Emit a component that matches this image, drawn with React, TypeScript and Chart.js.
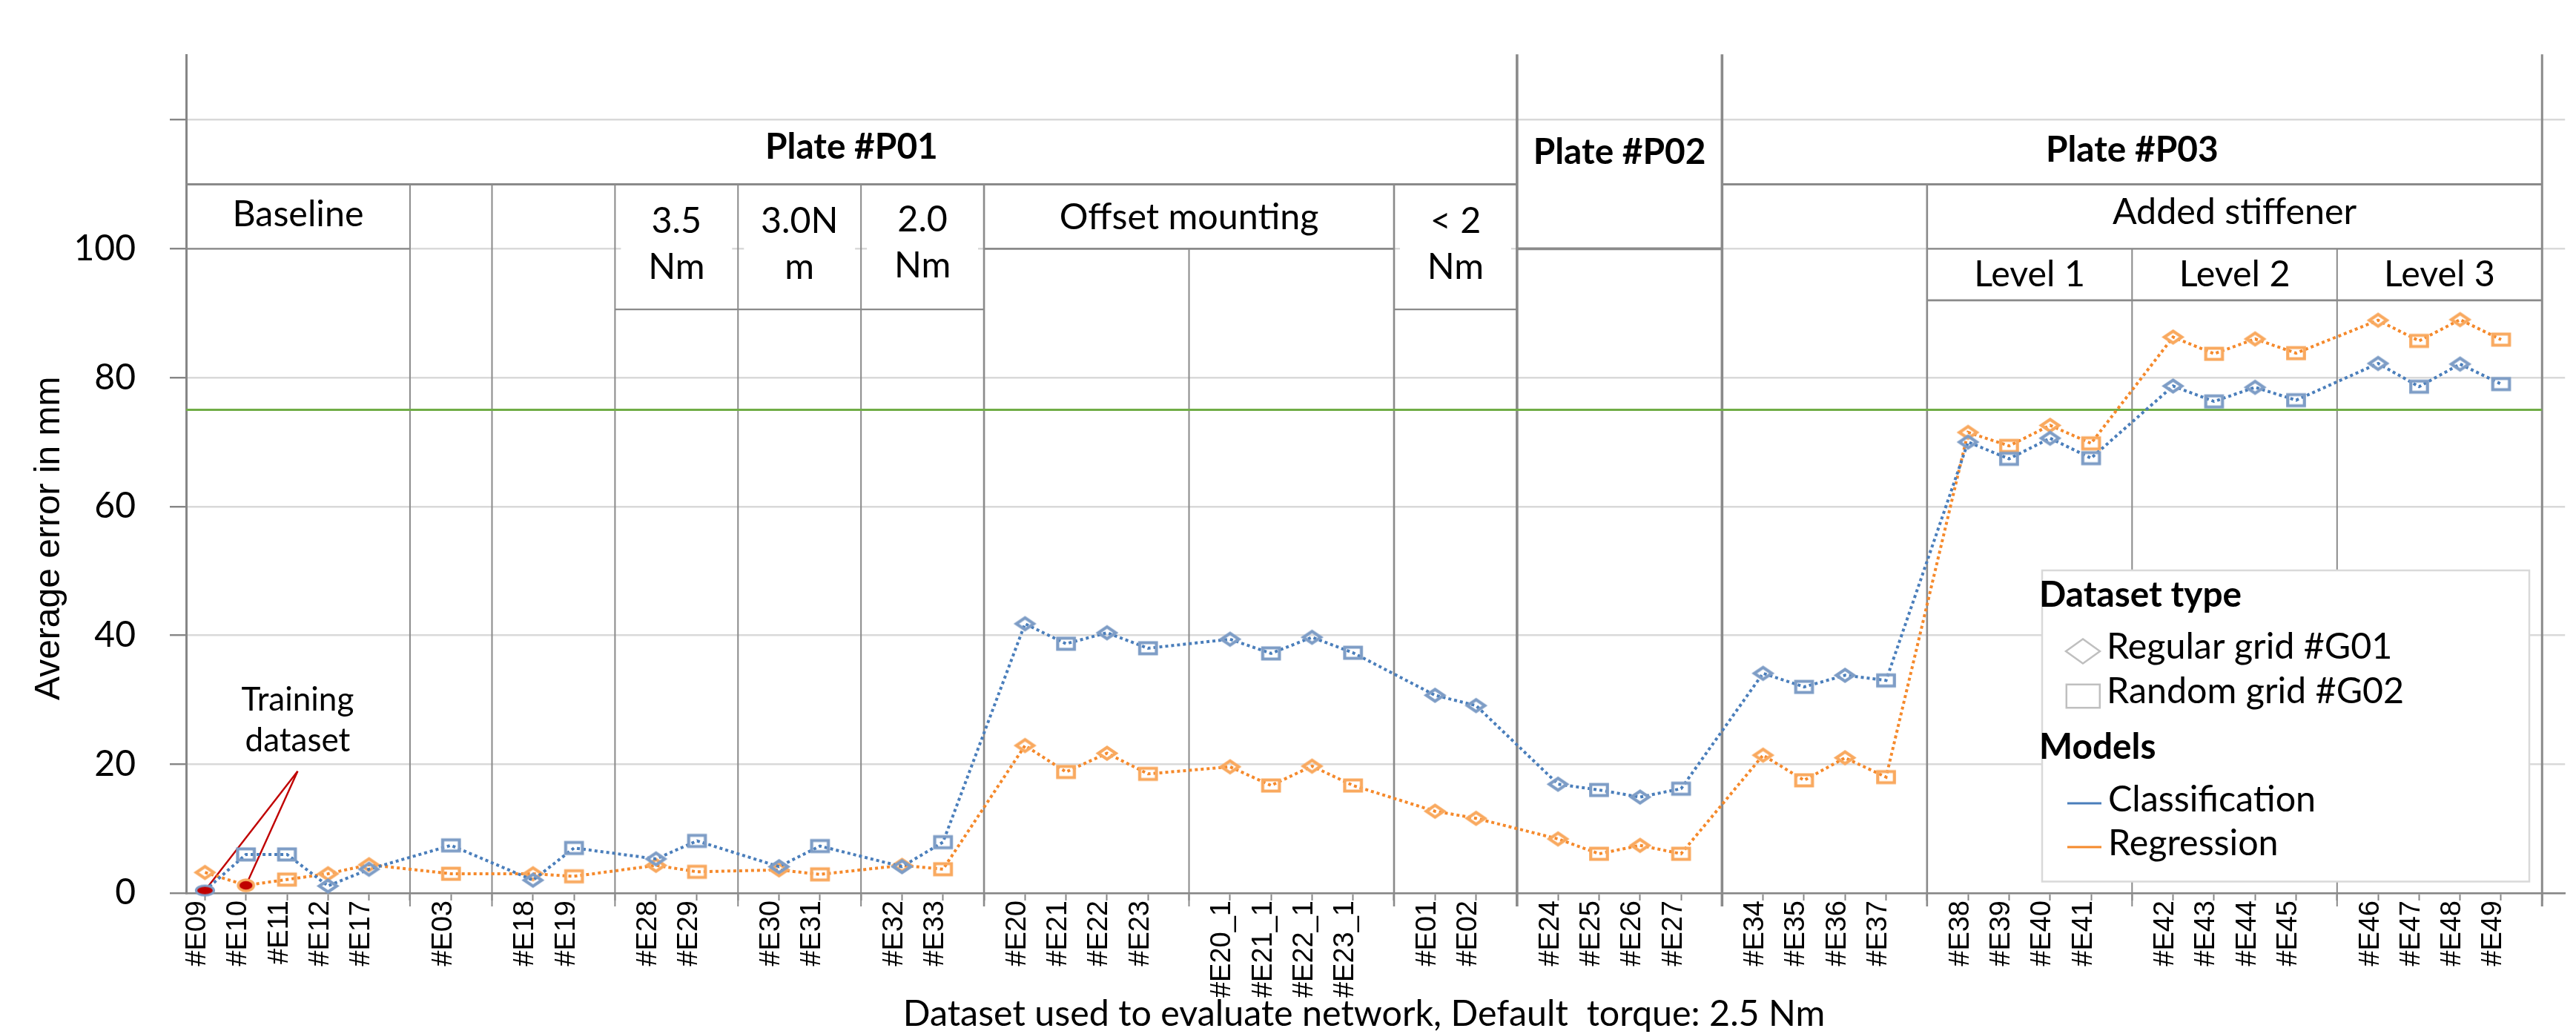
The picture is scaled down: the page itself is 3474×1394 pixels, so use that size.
import React, { useEffect, useRef } from 'react';
import { Chart, registerables } from 'chart.js';

Chart.register(...registerables);

// ---------------- data ----------------
const categories = [
  '#E09', '#E10', '#E11', '#E12', '#E17', '',
  '#E03', '',
  '#E18', '#E19', '',
  '#E28', '#E29', '',
  '#E30', '#E31', '',
  '#E32', '#E33', '',
  '#E20', '#E21', '#E22', '#E23', '',
  '#E20_1', '#E21_1', '#E22_1', '#E23_1', '',
  '#E01', '#E02', '',
  '#E24', '#E25', '#E26', '#E27', '',
  '#E34', '#E35', '#E36', '#E37', '',
  '#E38', '#E39', '#E40', '#E41', '',
  '#E42', '#E43', '#E44', '#E45', '',
  '#E46', '#E47', '#E48', '#E49', '',
];

const classification = [
  0.4, 6.0, 6.0, 1.1, 3.7, null,
  7.4, null,
  2.0, 7.0, null,
  5.3, 8.1, null,
  4.1, 7.3, null,
  4.1, 7.9, null,
  41.8, 38.7, 40.4, 38.0, null,
  39.4, 37.2, 39.7, 37.3, null,
  30.7, 29.1, null,
  16.9, 16.0, 14.9, 16.2, null,
  34.1, 32.0, 33.8, 33.0, null,
  70.0, 67.4, 70.6, 67.5, null,
  78.7, 76.3, 78.5, 76.5, null,
  82.2, 78.6, 82.1, 79.0, null,
];

const regression = [
  3.2, 1.2, 2.1, 3.0, 4.4, null,
  3.0, null,
  3.0, 2.6, null,
  4.3, 3.3, null,
  3.6, 2.9, null,
  4.3, 3.7, null,
  22.9, 18.8, 21.7, 18.5, null,
  19.6, 16.7, 19.7, 16.7, null,
  12.7, 11.6, null,
  8.4, 6.1, 7.4, 6.1, null,
  21.4, 17.5, 21.0, 18.0, null,
  71.5, 69.4, 72.6, 69.8, null,
  86.3, 83.7, 86.0, 83.8, null,
  88.9, 85.7, 89.0, 85.9, null,
];

// dataset type of each evaluation set: G01 = regular grid, G02 = random grid
const gridType = [
  'G01', 'G02', 'G02', 'G01', 'G01', '',
  'G02', '',
  'G01', 'G02', '',
  'G01', 'G02', '',
  'G01', 'G02', '',
  'G01', 'G02', '',
  'G01', 'G02', 'G01', 'G02', '',
  'G01', 'G02', 'G01', 'G02', '',
  'G01', 'G01', '',
  'G01', 'G02', 'G01', 'G02', '',
  'G01', 'G02', 'G01', 'G02', '',
  'G01', 'G02', 'G01', 'G02', '',
  'G01', 'G02', 'G01', 'G02', '',
  'G01', 'G02', 'G01', 'G02', '',
];

const trainingClassification = '#E09';
const trainingRegression = '#E10';
const thresholdValue = 75;

const yTickValues = [0, 20, 40, 60, 80, 100, 120];
const yTickLabels = ['0', '20', '40', '60', '80', '100', ''];

const seriesNames = ['Classification', 'Regression'];
const datasetTypeNames = ['Regular grid #G01', 'Random grid #G02'];
const legendHeadings = ['Dataset type', 'Models'];

const xTitle = 'Dataset used to evaluate network, Default  torque: 2.5 Nm';
const yTitle = 'Average error in mm';
const noteLines = ['Training', 'dataset'];

// header table drawn over the plot (category boundaries / value levels)
const X_MIN = 0.54;
const X_MAX = 58.56;
const Y_MAX = 130;

const plateCells = [
  { text: 'Plate #P01', from: X_MIN, to: 33, base: 113.95 },
  { text: 'Plate #P02', from: 33, to: 38, base: 113.2 },
  { text: 'Plate #P03', from: 38, to: 58, base: 113.5 },
];

const conditionCells = [
  { lines: ['Baseline'], from: X_MIN, to: 6, bases: [103.5], blank: false },
  { lines: ['3.5', 'Nm'], from: 11, to: 14, bases: [102.5, 95.3], blank: true },
  { lines: ['3.0N', 'm'], from: 14, to: 17, bases: [102.5, 95.3], blank: true },
  { lines: ['2.0', 'Nm'], from: 17, to: 20, bases: [102.7, 95.5], blank: true },
  { lines: ['Offset mounting'], from: 20, to: 30, bases: [103.0], blank: false },
  { lines: ['< 2', 'Nm'], from: 30, to: 33, bases: [102.5, 95.3], blank: true },
  { lines: ['Added stiffener'], from: 43, to: 58, bases: [103.9], blank: false },
  { lines: ['Level 1'], from: 43, to: 48, bases: [94.2], blank: false },
  { lines: ['Level 2'], from: 48, to: 53, bases: [94.2], blank: false },
  { lines: ['Level 3'], from: 53, to: 58, bases: [94.2], blank: false },
];

const vLines = [
  { at: 6, top: 110, w: 2 },
  { at: 8, top: 110, w: 2 },
  { at: 11, top: 110, w: 2 },
  { at: 14, top: 110, w: 2 },
  { at: 17, top: 110, w: 2 },
  { at: 20, top: 110, w: 2.6 },
  { at: 25, top: 100, w: 2 },
  { at: 30, top: 110, w: 2.6 },
  { at: 33, top: 130, w: 3.6 },
  { at: 38, top: 130, w: 3.6 },
  { at: 43, top: 110, w: 2.6 },
  { at: 48, top: 100, w: 2 },
  { at: 53, top: 100, w: 2 },
  { at: 58, top: 130, w: 3 },
];

const hLines = [
  { v: 110, from: X_MIN, to: 33, w: 3 },
  { v: 110, from: 38, to: 58, w: 3 },
  { v: 100, from: X_MIN, to: 6, w: 2.2 },
  { v: 100, from: 20, to: 30, w: 2.6 },
  { v: 100, from: 33, to: 38, w: 3.6 },
  { v: 100, from: 43, to: 58, w: 2.2 },
  { v: 90.6, from: 11, to: 20, w: 2.2 },
  { v: 90.6, from: 30, to: 33, w: 2.2 },
  { v: 92, from: 43, to: 58, w: 2.6 },
];

// annotation anchor (category position, value)
const noteAnchor = { x: 3.26, y: 18.9 };
const noteBases = [28.3, 22.0];

// ---------------- styles ----------------
const C = {
  blueLine: '#4A7EBB',
  blueMark: '#7E9DC6',
  orangeLine: '#F5892B',
  orangeMark: '#F9A95F',
  red: '#C00000',
  green: '#70AD47',
  table: '#8A8A8A',
  grid: '#D9D9D9',
  axis: '#868686',
  legendBorder: '#D9D9D9',
  legendMark: '#BFBFBF',
};

function makeMarker(shape: string, stroke: string, fill: string | null, w: number, h: number, lw: number) {
  const c = document.createElement('canvas');
  c.width = Math.ceil(w + lw * 2 + 4);
  c.height = Math.ceil(h + lw * 2 + 4);
  const g = c.getContext('2d')!;
  const cx = c.width / 2;
  const cy = c.height / 2;
  g.lineWidth = lw;
  g.strokeStyle = stroke;
  g.lineJoin = 'miter';
  g.beginPath();
  if (shape === 'diamond') {
    g.moveTo(cx, cy - h / 2);
    g.lineTo(cx + w / 2, cy);
    g.lineTo(cx, cy + h / 2);
    g.lineTo(cx - w / 2, cy);
    g.closePath();
  } else if (shape === 'square') {
    g.rect(cx - w / 2, cy - h / 2, w, h);
  } else {
    g.ellipse(cx, cy, w / 2, h / 2, 0, 0, Math.PI * 2);
  }
  if (fill) {
    g.fillStyle = fill;
    g.fill();
  }
  g.stroke();
  return c;
}

export default function App() {
  const canvasRef = useRef<HTMLCanvasElement | null>(null);

  useEffect(() => {
    const canvas = canvasRef.current;
    if (!canvas) return;

    // size the Calibri-like (Lato) texts so their widths match the reference
    const m = document.createElement('canvas').getContext('2d')!;
    const fit = (text: string, target: number, weight: string, fallback: number) => {
      m.font = `${weight} 100px Lato`;
      const w = m.measureText(text).width;
      return w > 0 ? (100 * target) / w : fallback;
    };
    const calReg = (fit(xTitle, 1261, 'normal', 52) + fit('Classification', 277.5, 'normal', 52) + fit('Baseline', 176, 'normal', 52)) / 3;
    const calBold = (fit('Dataset type', 277, 'bold', 52) + fit('Plate #P03', 229.5, 'bold', 52)) / 2;
    const calNote = fit('Training', 151.7, 'normal', 46);
    const REG = `${calReg.toFixed(1)}px Lato`;
    const BOLD = `bold ${calBold.toFixed(1)}px Lato`;
    const NOTE = `${calNote.toFixed(1)}px Lato`;

    const mk = {
      blueDiamond: makeMarker('diamond', C.blueMark, null, 23.5, 16, 4.2),
      blueSquare: makeMarker('square', C.blueMark, null, 22.5, 15, 4.2),
      orangeDiamond: makeMarker('diamond', C.orangeMark, null, 23.5, 16, 4.2),
      orangeSquare: makeMarker('square', C.orangeMark, null, 22.5, 15, 4.2),
      blueTrain: makeMarker('ellipse', C.blueMark, C.red, 24, 13, 3.2),
      orangeTrain: makeMarker('ellipse', C.orangeMark, C.red, 21, 15, 3.6),
    };

    const clsStyles = categories.map((c, i) =>
      c === trainingClassification ? mk.blueTrain : gridType[i] === 'G01' ? mk.blueDiamond : mk.blueSquare);
    const regStyles = categories.map((c, i) =>
      c === trainingRegression ? mk.orangeTrain : gridType[i] === 'G01' ? mk.orangeDiamond : mk.orangeSquare);

    const drawText = (ctx: CanvasRenderingContext2D, s: string, x: number, y: number, font: string, align: CanvasTextAlign = 'center') => {
      ctx.font = font;
      ctx.textAlign = align;
      ctx.textBaseline = 'alphabetic';
      ctx.fillStyle = '#000';
      ctx.fillText(s, x, y);
    };

    const overlay = {
      id: 'overlay',
      beforeDatasetsDraw(chart: any) {
        const { ctx } = chart;
        const xs = chart.scales.x;
        const ys = chart.scales.y;
        const px = (c: number) => xs.getPixelForValue(c);
        const py = (v: number) => ys.getPixelForValue(v);
        const bottom = py(0);
        ctx.save();
        // white cells hiding gridlines
        ctx.fillStyle = '#fff';
        conditionCells.forEach((cell) => {
          if (!cell.blank) return;
          const x0 = px(cell.from) + 8;
          const x1 = px(cell.to) - 8;
          ctx.fillRect(x0, py(110) + 4, x1 - x0, py(90.6) - py(110) - 8);
        });
        // table lines
        ctx.strokeStyle = C.table;
        ctx.lineCap = 'butt';
        vLines.forEach((l) => {
          ctx.beginPath();
          ctx.lineWidth = l.w;
          ctx.moveTo(px(l.at), py(l.top) - (l.top >= Y_MAX ? 1.5 : 0));
          ctx.lineTo(px(l.at), bottom + 18);
          ctx.stroke();
        });
        hLines.forEach((l) => {
          ctx.beginPath();
          ctx.lineWidth = l.w;
          ctx.moveTo(px(l.from), py(l.v));
          ctx.lineTo(px(l.to), py(l.v));
          ctx.stroke();
        });
        // table texts
        plateCells.forEach((c) => drawText(ctx, c.text, (px(c.from) + px(c.to)) / 2, py(c.base), BOLD));
        conditionCells.forEach((c) => {
          c.lines.forEach((s, i) => drawText(ctx, s, (px(c.from) + px(c.to)) / 2, py(c.bases[i]), REG));
        });
        // threshold line
        ctx.beginPath();
        ctx.strokeStyle = C.green;
        ctx.lineWidth = 3;
        ctx.moveTo(px(X_MIN), py(thresholdValue));
        ctx.lineTo(px(58), py(thresholdValue));
        ctx.stroke();
        // training annotation
        const ax = px(noteAnchor.x);
        const ay = py(noteAnchor.y);
        noteLines.forEach((s, i) => drawText(ctx, s, ax, py(noteBases[i]), NOTE));
        ctx.strokeStyle = C.red;
        ctx.lineWidth = 2.4;
        const ic = categories.indexOf(trainingClassification);
        const ir = categories.indexOf(trainingRegression);
        [[ic + 1, classification[ic]], [ir + 1, regression[ir]]].forEach(([cx, cy]) => {
          ctx.beginPath();
          ctx.moveTo(ax, ay);
          ctx.lineTo(px(cx as number), py(cy as number));
          ctx.stroke();
        });
        ctx.restore();
      },
      afterDraw(chart: any) {
        const { ctx } = chart;
        const xs = chart.scales.x;
        ctx.save();
        // axis titles
        drawText(ctx, xTitle, (xs.getPixelForValue(X_MIN) + xs.getPixelForValue(58)) / 2, 1383, REG);
        ctx.save();
        ctx.translate(80, 944);
        ctx.rotate(-Math.PI / 2);
        drawText(ctx, yTitle, 0, 0, '48px "Liberation Sans"', 'left');
        ctx.restore();
        // legend
        ctx.fillStyle = '#fff';
        ctx.fillRect(2754, 769, 657, 419.5);
        ctx.strokeStyle = C.legendBorder;
        ctx.lineWidth = 2.5;
        ctx.strokeRect(2754, 769, 657, 419.5);
        drawText(ctx, legendHeadings[0], 2750, 818, BOLD, 'left');
        ctx.strokeStyle = C.legendMark;
        ctx.lineWidth = 2.5;
        ctx.beginPath();
        ctx.moveTo(2809, 878 - 16.5);
        ctx.lineTo(2809 + 23, 878);
        ctx.lineTo(2809, 878 + 16.5);
        ctx.lineTo(2809 - 23, 878);
        ctx.closePath();
        ctx.stroke();
        drawText(ctx, datasetTypeNames[0], 2841, 888, REG, 'left');
        ctx.strokeRect(2786.8, 922.8, 45, 31.4);
        drawText(ctx, datasetTypeNames[1], 2841, 948, REG, 'left');
        drawText(ctx, legendHeadings[1], 2750, 1023, BOLD, 'left');
        ctx.lineWidth = 3;
        ctx.strokeStyle = C.blueLine;
        ctx.beginPath();
        ctx.moveTo(2788, 1083);
        ctx.lineTo(2834, 1083);
        ctx.stroke();
        drawText(ctx, seriesNames[0], 2843, 1094, REG, 'left');
        ctx.strokeStyle = C.orangeLine;
        ctx.beginPath();
        ctx.moveTo(2788, 1142);
        ctx.lineTo(2834, 1142);
        ctx.stroke();
        drawText(ctx, seriesNames[1], 2843, 1152.5, REG, 'left');
        ctx.restore();
      },
    };

    const toPoints = (vals: (number | null)[]) => vals.map((v, i) => ({ x: i + 1, y: v }));

    const chart = new Chart(canvas, {
      type: 'line',
      data: {
        datasets: [
          {
            label: seriesNames[0],
            data: toPoints(classification),
            borderColor: C.blueLine,
            borderWidth: 4,
            borderDash: [4, 4],
            borderCapStyle: 'butt',
            spanGaps: true,
            tension: 0,
            pointStyle: clsStyles,
            pointRadius: 10,
            pointHoverRadius: 10,
            clip: false,
            order: 1,
          },
          {
            label: seriesNames[1],
            data: toPoints(regression),
            borderColor: C.orangeLine,
            borderWidth: 4,
            borderDash: [4, 4],
            borderCapStyle: 'butt',
            spanGaps: true,
            tension: 0,
            pointStyle: regStyles,
            pointRadius: 10,
            pointHoverRadius: 10,
            clip: false,
            order: 2,
          },
        ],
      } as any,
      options: {
        responsive: false,
        devicePixelRatio: 1,
        animation: false,
        events: [],
        layout: { padding: { left: 0, top: 39, right: 8, bottom: 0 } },
        plugins: { legend: { display: false }, tooltip: { enabled: false }, title: { display: false } },
        scales: {
          x: {
            type: 'linear',
            min: X_MIN,
            max: X_MAX,
            afterBuildTicks: (scale: any) => {
              scale.ticks = categories.map((_, i) => ({ value: i + 1 }));
            },
            afterFit: (scale: any) => {
              scale.height = 190;
            },
            grid: {
              display: true,
              drawOnChartArea: false,
              drawTicks: true,
              tickLength: 10,
              tickColor: C.axis,
              tickWidth: 2,
            },
            border: { display: true, color: C.axis, width: 2.6 },
            ticks: {
              autoSkip: false,
              minRotation: 90,
              maxRotation: 90,
              padding: 0,
              labelOffset: -10,
              color: '#000',
              font: { family: 'Liberation Sans', size: 38 },
              callback: (v: any) => categories[Math.round(v) - 1] ?? '',
            },
          },
          y: {
            type: 'linear',
            min: 0,
            max: Y_MAX,
            afterBuildTicks: (scale: any) => {
              scale.ticks = yTickValues.map((v) => ({ value: v }));
            },
            afterFit: (scale: any) => {
              scale.width = 251;
            },
            grid: {
              color: C.grid,
              lineWidth: 2.4,
              drawTicks: true,
              tickLength: 22,
              tickColor: C.axis,
              tickWidth: 2.4,
            },
            border: { display: true, color: C.axis, width: 3 },
            ticks: {
              padding: 46,
              color: '#000',
              font: { family: 'Lato', size: Math.round(calReg) },
              callback: (v: any, i: number) => yTickLabels[i] ?? '',
            },
          },
        },
      } as any,
      plugins: [overlay],
    });

    return () => chart.destroy();
  }, []);

  return (
    <div style={{ position: 'absolute', left: 0, top: 0, width: 3474, height: 1394, background: '#fff' }}>
      <canvas ref={canvasRef} width={3474} height={1394} style={{ display: 'block', width: 3474, height: 1394 }} />
    </div>
  );
}
